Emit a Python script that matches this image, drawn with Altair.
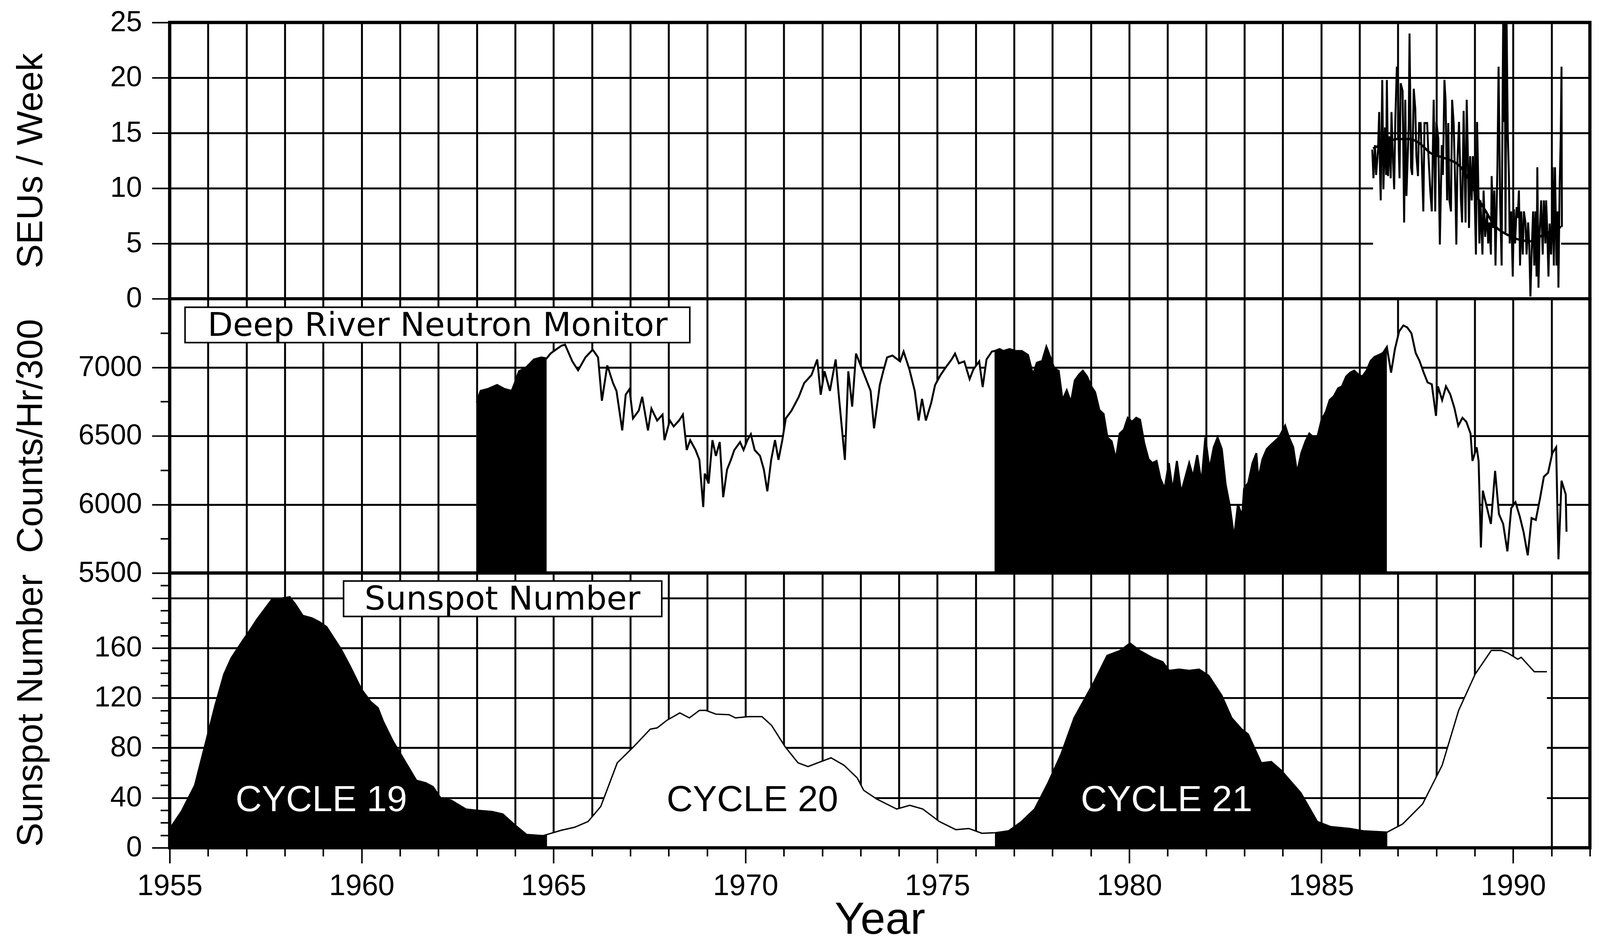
import altair as alt
import pandas as pd

# ---------------- data ----------------
# SEUs per week (weekly values, noisy) and smoothed curve
seu_year = [1986.33, 1986.36, 1986.40, 1986.43, 1986.48, 1986.51, 1986.53, 1986.55, 1986.59, 1986.62,
            1986.66, 1986.69, 1986.71, 1986.74, 1986.78, 1986.81, 1986.83, 1986.86, 1986.90, 1986.93,
            1986.97, 1987.00, 1987.02, 1987.04, 1987.07, 1987.12, 1987.16, 1987.19, 1987.22, 1987.28,
            1987.30, 1987.34, 1987.37, 1987.41, 1987.45, 1987.48, 1987.52, 1987.55, 1987.59, 1987.66,
            1987.69, 1987.76, 1987.79, 1987.84, 1987.88, 1987.93, 1987.97, 1988.00, 1988.05, 1988.09,
            1988.14, 1988.17, 1988.21, 1988.24, 1988.28, 1988.31, 1988.34, 1988.38, 1988.41, 1988.45,
            1988.50, 1988.52, 1988.55, 1988.59, 1988.64, 1988.67, 1988.71, 1988.76, 1988.79, 1988.82,
            1988.85, 1988.88, 1988.92, 1988.95, 1989.00, 1989.03, 1989.06, 1989.08, 1989.12, 1989.15,
            1989.20, 1989.23, 1989.27, 1989.32, 1989.35, 1989.38, 1989.42, 1989.44, 1989.48, 1989.51,
            1989.54, 1989.59, 1989.62, 1989.66, 1989.70, 1989.72, 1989.74, 1989.76, 1989.78, 1989.80,
            1989.83, 1989.86, 1989.89, 1989.91, 1989.95, 1989.99, 1990.02, 1990.05, 1990.09, 1990.12,
            1990.15, 1990.18, 1990.21, 1990.25, 1990.28, 1990.32, 1990.35, 1990.39, 1990.42, 1990.45,
            1990.48, 1990.52, 1990.55, 1990.58, 1990.61, 1990.63, 1990.66, 1990.69, 1990.73, 1990.77,
            1990.80, 1990.84, 1990.86, 1990.89, 1990.92, 1990.95, 1990.99, 1991.01, 1991.03, 1991.06,
            1991.09, 1991.13, 1991.16, 1991.18, 1991.21, 1991.24, 1991.26, 1991.27]
seu_val = [13.5, 10.9, 13.9, 11.2, 13.5, 16.9, 11.7, 8.9, 19.8, 9.9,
           15.5, 11.2, 19.8, 11.1, 14.7, 10.9, 16.9, 13.5, 9.9, 16.2,
           21.0, 20.0, 13.5, 10.9, 19.5, 18.8, 6.9, 18.0, 9.3, 15.7,
           24.0, 11.9, 11.2, 19.0, 17.2, 12.9, 11.1, 15.9, 15.9, 7.9,
           15.9, 15.9, 13.2, 9.8, 7.9, 18.0, 7.9, 16.0, 14.5, 4.9,
           13.9, 11.2, 19.8, 17.9, 8.9, 15.9, 8.9, 7.9, 18.0, 15.9,
           8.9, 4.9, 12.6, 16.0, 8.9, 6.9, 17.0, 6.9, 18.0, 13.1,
           6.4, 12.9, 8.9, 12.9, 8.9, 4.0, 16.0, 12.6, 5.0, 8.9,
           4.0, 9.8, 5.6, 7.6, 5.0, 6.9, 4.0, 11.1, 6.4, 9.8,
           3.0, 11.9, 21.0, 8.9, 3.0, 15.5, 27.0, 16.0, 27.0, 6.0,
           27.0, 15.0, 11.1, 5.0, 7.9, 2.0, 8.1, 5.0, 8.3, 7.3,
           9.8, 3.0, 7.9, 4.0, 7.9, 6.9, 4.0, 6.9, 4.8, 0.2,
           4.0, 7.9, 3.0, 7.9, 2.0, 11.9, 1.0, 6.0, 8.9, 4.0,
           8.9, 5.0, 8.9, 6.0, 2.0, 6.8, 4.0, 6.0, 11.9, 3.0,
           11.9, 3.0, 7.9, 1.0, 9.9, 14.7, 21.0, 6.5]
seu_smooth_year = [1986.35, 1986.6, 1987.0, 1987.3, 1987.55, 1987.84, 1988.23, 1988.61, 1988.86,
                   1989.05, 1989.29, 1989.48, 1989.87, 1990.2, 1990.45, 1990.69, 1990.98, 1991.25]
seu_smooth_val = [13.6, 14.0, 14.45, 14.45, 14.1, 13.2, 12.7, 12.0, 10.7,
                  9.3, 7.9, 6.8, 5.75, 5.3, 5.2, 5.6, 6.1, 6.5]

# Deep River neutron monitor (counts/hr/300)
nm_year = [1963.00, 1963.10, 1963.29, 1963.53, 1963.72, 1963.91, 1964.01, 1964.10, 1964.29, 1964.49,
           1964.68, 1964.82, 1964.92, 1965.06, 1965.21, 1965.30, 1965.49, 1965.64, 1965.83, 1966.02,
           1966.16, 1966.26, 1966.40, 1966.55, 1966.64, 1966.79, 1966.88, 1966.98, 1967.07, 1967.22,
           1967.31, 1967.46, 1967.55, 1967.70, 1967.84, 1967.89, 1968.03, 1968.13, 1968.27, 1968.37,
           1968.47, 1968.56, 1968.70, 1968.80, 1968.90, 1968.94, 1969.04, 1969.14, 1969.23, 1969.33,
           1969.42, 1969.52, 1969.62, 1969.71, 1969.86, 1969.95, 1970.05, 1970.14, 1970.24, 1970.38,
           1970.48, 1970.57, 1970.67, 1970.77, 1970.86, 1970.96, 1971.05, 1971.20, 1971.39, 1971.53,
           1971.72, 1971.87, 1971.96, 1972.06, 1972.20, 1972.35, 1972.44, 1972.59, 1972.68, 1972.78,
           1972.88, 1973.02, 1973.16, 1973.26, 1973.35, 1973.50, 1973.59, 1973.69, 1973.83, 1974.03,
           1974.12, 1974.27, 1974.41, 1974.51, 1974.60, 1974.70, 1974.84, 1974.94, 1975.08, 1975.22,
           1975.37, 1975.46, 1975.56, 1975.70, 1975.84, 1975.94, 1976.09, 1976.18, 1976.28, 1976.42,
           1976.49, 1976.62, 1976.72, 1976.88, 1977.04, 1977.20, 1977.36, 1977.49, 1977.59, 1977.73,
           1977.84, 1977.94, 1978.05, 1978.16, 1978.26, 1978.37, 1978.48, 1978.58, 1978.69, 1978.79,
           1978.90, 1979.01, 1979.11, 1979.22, 1979.33, 1979.43, 1979.54, 1979.65, 1979.75, 1979.86,
           1979.96, 1980.07, 1980.18, 1980.28, 1980.39, 1980.50, 1980.60, 1980.71, 1980.81, 1980.92,
           1981.03, 1981.13, 1981.24, 1981.35, 1981.45, 1981.56, 1981.66, 1981.77, 1981.88, 1981.98,
           1982.09, 1982.20, 1982.30, 1982.41, 1982.51, 1982.62, 1982.73, 1982.83, 1982.94, 1982.99,
           1983.10, 1983.21, 1983.31, 1983.36, 1983.47, 1983.58, 1983.68, 1983.79, 1983.90, 1984.06,
           1984.16, 1984.27, 1984.37, 1984.48, 1984.59, 1984.69, 1984.80, 1984.91, 1985.01, 1985.12,
           1985.22, 1985.33, 1985.44, 1985.54, 1985.65, 1985.76, 1985.86, 1985.97, 1986.07, 1986.18,
           1986.29, 1986.39, 1986.50, 1986.61, 1986.71, 1986.82, 1986.92, 1987.03, 1987.14, 1987.24,
           1987.35, 1987.46, 1987.56, 1987.67, 1987.77, 1987.88, 1987.99, 1988.04, 1988.15, 1988.25,
           1988.36, 1988.47, 1988.57, 1988.68, 1988.78, 1988.89, 1988.94, 1989.05, 1989.10, 1989.16,
           1989.21, 1989.32, 1989.42, 1989.53, 1989.63, 1989.74, 1989.85, 1989.95, 1990.06, 1990.17,
           1990.27, 1990.38, 1990.48, 1990.59, 1990.70, 1990.80, 1990.91, 1991.02, 1991.12, 1991.18,
           1991.26, 1991.37, 1991.39]
nm_val = [6742, 6828, 6842, 6871, 6842, 6828, 6900, 6971, 7000, 7057,
          7072, 7065, 7100, 7129, 7158, 7165, 7043, 6978, 7072, 7129,
          7072, 6756, 7014, 6885, 6828, 6540, 6800, 6842, 6627, 6684,
          6785, 6540, 6699, 6612, 6655, 6469, 6612, 6569, 6612, 6655,
          6397, 6469, 6397, 6325, 5981, 6225, 6153, 6469, 6354, 6455,
          6053, 6254, 6325, 6397, 6455, 6397, 6469, 6512, 6397, 6354,
          6254, 6096, 6325, 6469, 6325, 6469, 6627, 6684, 6785, 6885,
          6943, 7057, 6800, 6971, 6828, 7057, 6770, 6325, 6971, 6713,
          7100, 7000, 6900, 6828, 6555, 6871, 6971, 7072, 7086, 7043,
          7115, 6986, 6828, 6612, 6770, 6612, 6742, 6871, 6943, 7000,
          7057, 7100, 7029, 7043, 6914, 6986, 7043, 6856, 7057, 7115,
          7119, 7133, 7119, 7133, 7119, 7119, 7090, 6947, 7033, 7047,
          7150, 7076, 6990, 6975, 6761, 6832, 6746, 6904, 6947, 6975,
          6933, 6861, 6818, 6689, 6660, 6489, 6460, 6330, 6517, 6546,
          6632, 6603, 6632, 6618, 6446, 6331, 6302, 6317, 6188, 6116,
          6302, 6102, 6317, 6087, 6188, 6302, 6202, 6360, 6159, 6489,
          6259, 6417, 6489, 6403, 6145, 5987, 5758, 6001, 5915, 6116,
          6159, 6302, 6374, 6188, 6331, 6403, 6432, 6460, 6489, 6575,
          6489, 6417, 6231, 6374, 6460, 6517, 6489, 6503, 6618, 6675,
          6761, 6790, 6847, 6861, 6933, 6962, 6976, 6947, 6933, 6976,
          7047, 7076, 7090, 7105, 7148, 6961, 7133, 7262, 7305, 7291,
          7248, 7105, 7047, 6961, 6890, 6876, 6646, 6861, 6761, 6861,
          6804, 6703, 6574, 6632, 6603, 6517, 6317, 6417, 6317, 5686,
          6101, 5973, 5858, 6245, 5930, 5858, 5658, 5973, 6016, 5915,
          5801, 5629, 5901, 5887, 6044, 6202, 6231, 6374, 6417, 5600,
          6173, 6073, 5801]

# Smoothed sunspot number
ssn_year = [1955.00, 1955.30, 1955.65, 1955.94, 1956.18, 1956.41, 1956.60, 1956.90, 1957.08, 1957.27,
            1957.66, 1957.94, 1958.13, 1958.28, 1958.47, 1958.71, 1958.90, 1959.09, 1959.47, 1959.71,
            1960.00, 1960.24, 1960.43, 1960.57, 1960.81, 1961.10, 1961.43, 1961.67, 1961.86, 1962.06,
            1962.34, 1962.72, 1963.00, 1963.40, 1963.68, 1963.97, 1964.30, 1964.73, 1964.83, 1965.20,
            1965.55, 1965.90, 1966.23, 1966.66, 1967.09, 1967.52, 1967.70, 1967.95, 1968.29, 1968.54,
            1968.80, 1968.97, 1969.23, 1969.57, 1969.74, 1970.08, 1970.43, 1970.68, 1971.03, 1971.37,
            1971.63, 1971.88, 1972.23, 1972.57, 1972.91, 1973.08, 1973.42, 1973.94, 1974.28, 1974.62,
            1975.05, 1975.48, 1975.82, 1976.16, 1976.50, 1976.85, 1977.19, 1977.53, 1977.88, 1978.22,
            1978.56, 1979.08, 1979.42, 1979.76, 1980.02, 1980.27, 1980.62, 1980.87, 1981.04, 1981.30,
            1981.56, 1981.82, 1982.07, 1982.41, 1982.67, 1982.93, 1983.10, 1983.44, 1983.70, 1983.96,
            1984.47, 1984.90, 1985.24, 1985.75, 1986.10, 1986.72, 1987.12, 1987.64, 1988.15, 1988.58,
            1989.01, 1989.43, 1989.69, 1989.86, 1990.12, 1990.21, 1990.55, 1990.80, 1990.88]
ssn_val = [15.4, 29, 50, 85, 114, 139, 152, 166, 174, 183,
           199, 200, 201, 195, 186, 184, 181, 177, 159, 145,
           127, 117, 112, 101, 86, 71, 54, 52, 49, 40,
           38, 31, 30, 29, 27, 19, 10.6, 9.7, 10.6, 14,
           16.4, 21, 33, 68, 81, 95, 96, 102, 108, 104,
           110, 110, 107, 106.6, 104, 105, 105, 98, 81, 68,
           65, 68, 72, 66, 56, 46, 39, 31, 34, 31,
           21, 14.5, 15.4, 11.6, 12, 13.5, 21, 31, 52, 75,
           104, 133, 154, 158, 164, 158, 152, 149, 142, 143,
           142, 143, 138, 122, 104, 95, 91, 68, 69, 62,
           44, 21, 17, 15.4, 13.5, 12.5, 19, 35, 66, 110,
           139, 158, 158, 156, 151, 152.5, 141, 141, 141]

nm_black_ranges = [(1963.00, 1964.82), (1976.49, 1986.71)]
ssn_black_ranges = [(1955.00, 1964.83), (1976.50, 1986.72)]

cycle_labels = ["CYCLE  19", "CYCLE  20", "CYCLE  21"]
cycle_year = [1958.95, 1970.18, 1980.97]
cycle_value = [38, 38, 38]
cycle_color = ["white", "black", "white"]

# ---------------- layout / style ----------------
W = 3675
H1, H2, H3 = 715, 710, 711
FONT = "Liberation Sans Narrow, Liberation Sans, Arial, sans-serif"
BOXFONT = "DejaVu Sans"
TICKFS = 74
TITLEFS = 94
TITLE_X = -310
GW = 5
FRAME_W = 8

years = list(range(1955, 1993))
X_DOMAIN = [1955, 1992]
xs = alt.Scale(domain=X_DOMAIN, nice=False, zero=False)

x_grid_axis = alt.Axis(values=years, grid=True, gridColor="black", gridWidth=GW, gridOpacity=1,
                       labels=False, ticks=False, domain=False, title=None)
x_bottom_axis = alt.Axis(
    values=years, grid=True, gridColor="black", gridWidth=GW, gridOpacity=1, domain=False,
    ticks=True, tickColor="black", tickWidth=4,
    tickSize={"condition": {"test": "datum.value % 5 === 0", "value": 40}, "value": 22},
    labelExpr="datum.value % 5 === 0 && datum.value < 1991 ? datum.label : ''",
    format="d", labelFont=FONT, labelFontSize=TICKFS + 2, labelColor="black", labelPadding=22,
    labelOverlap=False, labelFlush=False,
    title="Year", titleFont=FONT, titleFontSize=116, titleFontWeight="normal", titleColor="black",
    titleY=130, titleBaseline="top")


def y_axis(values, major_test, label_test, title, h):
    return alt.Axis(
        values=values, grid=True, gridColor="black", gridWidth=GW,
        gridOpacity={"condition": {"test": major_test, "value": 1}, "value": 0},
        domain=False, ticks=True, tickColor="black", tickWidth=4,
        tickSize={"condition": {"test": major_test, "value": 46}, "value": 24},
        labelExpr="(" + label_test + ") ? datum.label : ''", format="d",
        labelFont=FONT, labelFontSize=TICKFS, labelColor="black", labelPadding=26,
        labelOverlap=False, labelFlush=False,
        title=title, titleFont=FONT, titleFontSize=TITLEFS, titleFontWeight="normal",
        titleColor="black", titleX=TITLE_X, titleY=h / 2, titleAngle=270,
        titleAlign="center", titleBaseline="bottom")


def frame(X, Y, y_domain):
    fdf = pd.DataFrame({"year": [X_DOMAIN[0]], "year2": [X_DOMAIN[1]],
                        "value": [y_domain[0]], "value2": [y_domain[1]]})
    return alt.Chart(fdf).mark_rect(fillOpacity=0, stroke="black", strokeWidth=FRAME_W).encode(
        x=X, x2="year2:Q", y=Y, y2="value2:Q")


# ---------------- panel 1: SEUs / week ----------------
seu_df = pd.DataFrame({"year": seu_year, "value": seu_val})
seu_s_df = pd.DataFrame({"year": seu_smooth_year, "value": seu_smooth_val})
seu_s_df["base"] = 0
Y1_DOMAIN = [0, 25]
ys1 = alt.Scale(domain=Y1_DOMAIN, nice=False, zero=False, clamp=True)
ax1 = y_axis(list(range(0, 26, 5)), "true", "true", "SEUs / Week", H1)

X1 = alt.X("year:Q", scale=xs, axis=x_grid_axis)
Y1 = alt.Y("value:Q", scale=ys1, axis=ax1)

p1 = alt.layer(
    alt.Chart(seu_s_df).mark_area(color="white", opacity=1, interpolate="monotone")
    .encode(x=X1, y=Y1, y2="base:Q"),
    alt.Chart(seu_df).mark_line(color="black", strokeWidth=5).encode(x=X1, y=Y1),
    alt.Chart(seu_s_df).mark_line(color="black", strokeWidth=6, interpolate="monotone").encode(x=X1, y=Y1),
    frame(X1, Y1, Y1_DOMAIN),
).properties(width=W, height=H1)

# ---------------- panel 2: neutron monitor ----------------
nm_df = pd.DataFrame({"year": nm_year, "value": nm_val})
nm_df["base"] = 5500
Y2_DOMAIN = [5500, 7500]
ys2 = alt.Scale(domain=Y2_DOMAIN, nice=False, zero=False)
ax2 = y_axis(list(range(5500, 7500, 250)), "datum.value % 500 === 0", "datum.value % 500 === 0",
             "Counts/Hr/300", H2)
X2 = alt.X("year:Q", scale=xs, axis=x_grid_axis)
Y2 = alt.Y("value:Q", scale=ys2, axis=ax2)

nm_layers = [alt.Chart(nm_df).mark_area(color="white", opacity=1).encode(x=X2, y=Y2, y2="base:Q")]
for lo, hi in nm_black_ranges:
    nm_layers.append(
        alt.Chart(nm_df).transform_filter(f"datum.year >= {lo} && datum.year <= {hi}")
        .mark_area(color="black", opacity=1).encode(x=X2, y=Y2, y2="base:Q"))
nm_layers.append(alt.Chart(nm_df).mark_line(color="black", strokeWidth=5).encode(x=X2, y=Y2))

box2 = pd.DataFrame({"year": [1955.4], "year2": [1968.55], "value": [7438], "value2": [7180],
                     "tx": [1961.98], "ty": [7309], "label": ["Deep River Neutron Monitor"]})
nm_layers.append(alt.Chart(box2).mark_rect(fill="white", stroke="black", strokeWidth=4)
                 .encode(x=X2, x2="year2:Q", y=Y2, y2="value2:Q"))
nm_layers.append(alt.Chart(box2).mark_text(font=BOXFONT, fontSize=85, color="black",
                                            align="center", baseline="middle", dy=2)
                 .encode(x=alt.X("tx:Q", scale=xs, axis=x_grid_axis),
                         y=alt.Y("ty:Q", scale=ys2, axis=ax2), text="label:N"))
nm_layers.append(frame(X2, Y2, Y2_DOMAIN))
p2 = alt.layer(*nm_layers).properties(width=W, height=H2)

# ---------------- panel 3: sunspot number ----------------
ssn_df = pd.DataFrame({"year": ssn_year, "value": ssn_val})
ssn_df["base"] = 0
Y3_DOMAIN = [0, 220]
ys3 = alt.Scale(domain=Y3_DOMAIN, nice=False, zero=False)
ax3 = y_axis(list(range(0, 211, 10)), "datum.value % 40 === 0",
             "datum.value % 40 === 0 && datum.value < 200", "Sunspot Number", H3)
X3 = alt.X("year:Q", scale=xs, axis=x_bottom_axis)
Y3 = alt.Y("value:Q", scale=ys3, axis=ax3)

ssn_layers = [alt.Chart(ssn_df).mark_area(color="white", opacity=1).encode(x=X3, y=Y3, y2="base:Q")]
for lo, hi in ssn_black_ranges:
    ssn_layers.append(
        alt.Chart(ssn_df).transform_filter(f"datum.year >= {lo} && datum.year <= {hi}")
        .mark_area(color="black", opacity=1).encode(x=X3, y=Y3, y2="base:Q"))
ssn_layers.append(alt.Chart(ssn_df).mark_line(color="black", strokeWidth=3.5).encode(x=X3, y=Y3))

box3 = pd.DataFrame({"year": [1959.53], "year2": [1967.82], "value": [213.6], "value2": [185.2],
                     "tx": [1963.67], "ty": [199.4], "label": ["Sunspot Number"]})
ssn_layers.append(alt.Chart(box3).mark_rect(fill="white", stroke="black", strokeWidth=4)
                  .encode(x=X3, x2="year2:Q", y=Y3, y2="value2:Q"))
ssn_layers.append(alt.Chart(box3).mark_text(font=BOXFONT, fontSize=85, color="black",
                                             align="center", baseline="middle", dy=2)
                  .encode(x=alt.X("tx:Q", scale=xs, axis=x_bottom_axis),
                          y=alt.Y("ty:Q", scale=ys3, axis=ax3), text="label:N"))

cyc_df = pd.DataFrame({"tx": cycle_year, "ty": cycle_value, "label": cycle_labels, "col": cycle_color})
ssn_layers.append(alt.Chart(cyc_df).mark_text(font="Liberation Sans", fontSize=94,
                                               align="center", baseline="middle")
                  .encode(x=alt.X("tx:Q", scale=xs, axis=x_bottom_axis),
                          y=alt.Y("ty:Q", scale=ys3, axis=ax3), text="label:N",
                          color=alt.Color("col:N", scale=None)))
ssn_layers.append(frame(X3, Y3, Y3_DOMAIN))
p3 = alt.layer(*ssn_layers).properties(width=W, height=H3)

chart = alt.vconcat(p1, p2, p3, spacing=0, bounds="flush").properties(
    padding={"left": 22, "top": -4, "right": 10, "bottom": 0},
    background="white",
).configure_view(stroke="black", strokeWidth=FRAME_W, fill="white")

chart.save("out.html", embed_options={"renderer": "svg", "actions": False})
